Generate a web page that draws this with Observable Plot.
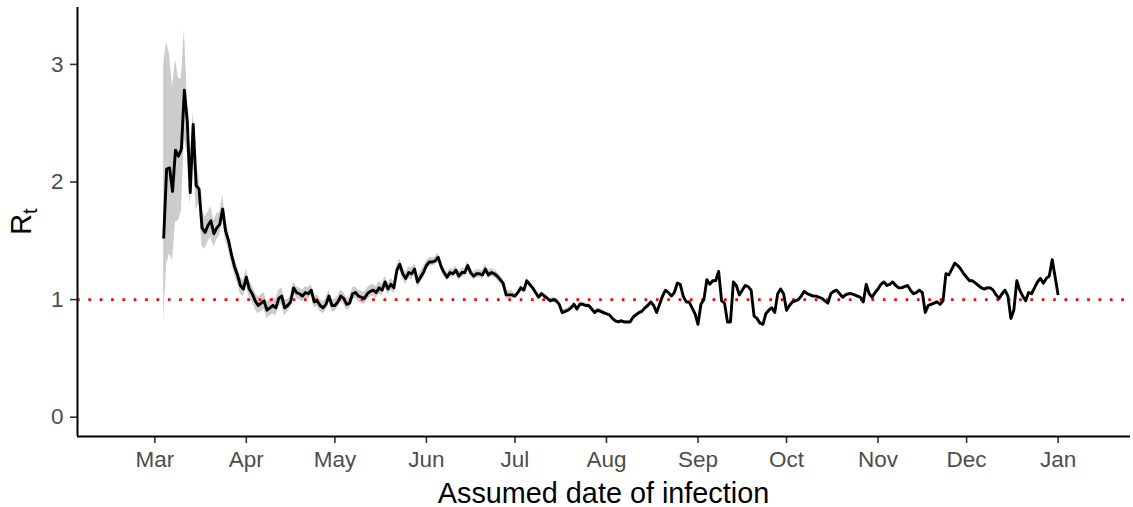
<!DOCTYPE html>
<html><head><meta charset="utf-8">
<script src="https://cdn.jsdelivr.net/npm/d3@7"></script>
<script src="https://cdn.jsdelivr.net/npm/@observablehq/plot@0.6"></script>
<style>
html,body{margin:0;padding:0;background:#fff;}
</style>
</head><body><div id="chart"></div>
<script>
// ---- data ----
const firstDay = "2020-03-04";
// daily Rt estimates from 2020-03-04 to 2021-01-01
const rt = [
  1.52, 2.11, 2.12, 1.92, 2.27, 2.22, 2.28, 2.78, 2.52, 1.91,
  2.49, 1.97, 1.94, 1.61, 1.57, 1.63, 1.67, 1.56, 1.61, 1.64,
  1.77, 1.58, 1.50, 1.38, 1.28, 1.21, 1.12, 1.09, 1.19, 1.09,
  1.05, 0.99, 0.95, 0.97, 0.99, 0.91, 0.93, 0.95, 0.93, 1.01,
  1.03, 0.93, 0.95, 0.98, 1.10, 1.06, 1.05, 1.03, 1.06, 1.05,
  1.08, 0.98, 0.99, 0.95, 0.93, 0.96, 1.03, 0.95, 0.95, 0.98,
  1.03, 1.01, 0.96, 0.97, 1.05, 1.06, 1.03, 1.02, 1.01, 1.05,
  1.07, 1.08, 1.06, 1.10, 1.08, 1.15, 1.09, 1.13, 1.10, 1.25,
  1.30, 1.22, 1.18, 1.23, 1.22, 1.26, 1.15, 1.19, 1.23, 1.29,
  1.32, 1.32, 1.33, 1.36, 1.28, 1.23, 1.19, 1.23, 1.22, 1.25,
  1.20, 1.23, 1.23, 1.29, 1.23, 1.20, 1.22, 1.22, 1.21, 1.26,
  1.21, 1.23, 1.22, 1.20, 1.17, 1.14, 1.04, 1.04, 1.04, 1.03,
  1.06, 1.10, 1.08, 1.16, 1.13, 1.10, 1.06, 1.02, 1.05, 1.03,
  1.01, 0.99, 1.00, 0.99, 0.96, 0.89, 0.90, 0.91, 0.93, 0.96,
  0.92, 0.96, 0.96, 0.95, 0.95, 0.92, 0.89, 0.91, 0.90, 0.89,
  0.88, 0.87, 0.84, 0.82, 0.81, 0.82, 0.81, 0.81, 0.81, 0.85,
  0.87, 0.89, 0.90, 0.93, 0.95, 0.98, 0.95, 0.89, 0.96, 1.03,
  1.08, 1.06, 1.03, 1.06, 1.14, 1.13, 1.03, 0.98, 0.98, 0.93,
  0.88, 0.79, 0.96, 1.00, 1.17, 1.13, 1.16, 1.16, 1.24, 0.99,
  0.97, 0.81, 0.81, 1.15, 1.12, 1.04, 1.08, 1.12, 1.11, 1.08,
  0.86, 0.84, 0.80, 0.79, 0.88, 0.91, 0.93, 0.89, 1.05, 1.09,
  1.05, 0.91, 0.95, 0.98, 0.99, 1.00, 1.03, 1.07, 1.05, 1.04,
  1.03, 1.03, 1.02, 1.01, 0.99, 0.97, 1.05, 1.07, 1.08, 1.05,
  1.02, 1.04, 1.05, 1.05, 1.04, 1.03, 1.02, 0.98, 1.13, 1.05,
  1.02, 1.06, 1.09, 1.13, 1.15, 1.12, 1.13, 1.15, 1.12, 1.10,
  1.10, 1.11, 1.12, 1.08, 1.05, 1.06, 1.08, 1.06, 0.89, 0.95,
  0.96, 0.97, 0.98, 0.96, 0.99, 1.22, 1.21, 1.26, 1.31, 1.29,
  1.26, 1.22, 1.19, 1.16, 1.16, 1.14, 1.12, 1.10, 1.09, 1.10,
  1.10, 1.08, 1.04, 1.01, 1.05, 1.08, 1.03, 0.84, 0.91, 1.16,
  1.08, 1.03, 0.99, 1.06, 1.05, 1.10, 1.15, 1.18, 1.14, 1.18,
  1.20, 1.34, 1.19, 1.04
];
// credible interval for the first days (2020-03-04 .. 2020-03-26)
const ciLowEarly  = [0.81, 1.30, 1.39, 1.33, 1.66, 1.67, 1.75, 2.37, 2.24, 1.80,
                     2.30, 1.76, 1.82, 1.45, 1.43, 1.49, 1.53, 1.45, 1.51, 1.55,
                     1.67, 1.50, 1.42];
const ciHighEarly = [3.00, 3.19, 3.08, 2.81, 3.04, 2.88, 2.88, 3.30, 2.72, 2.18,
                     2.60, 2.17, 2.04, 1.76, 1.70, 1.74, 1.79, 1.67, 1.73, 1.74,
                     1.89, 1.67, 1.58];
// later the interval is a thin band around the estimate (half-width by period)
const ciBreaks = ["2020-03-27", "2020-04-15", "2020-06-01", "2020-07-01", "2020-08-01"];
const ciHalf   = [0.07, 0.05, 0.035, 0.02, 0.012];
const refLevel = 1;
const monthTicks = ["2020-03-01","2020-04-01","2020-05-01","2020-06-01","2020-07-01",
  "2020-08-01","2020-09-01","2020-10-01","2020-11-01","2020-12-01","2021-01-01"];
const yTicks = [0, 1, 2, 3];
const xTitle = "Assumed date of infection";
const yTitleMain = "R";
const yTitleSub = "t";

// ---- build table ----
const utc = s => new Date(s + "T00:00:00Z");
const start = utc(firstDay);
const breakTimes = ciBreaks.map(s => +utc(s));
const rows = rt.map((v, i) => {
  const date = d3.utcDay.offset(start, i);
  let lo, hi;
  if (i < ciLowEarly.length) { lo = ciLowEarly[i]; hi = ciHighEarly[i]; }
  else {
    const k = Math.max(0, d3.bisectRight(breakTimes, +date) - 1);
    lo = v - ciHalf[k]; hi = v + ciHalf[k];
  }
  return {date, rt: v, lo, hi};
});

// ---- layout ----
const W = 1133, H = 507;
const mL = 77, mR = 3, mT = 7, mB = 71;
const DAY = 864e5;
const mar1 = +utc("2020-03-01");
const xDomain = [new Date(mar1 - 26.19 * DAY), new Date(mar1 + 330.52 * DAY)];
const yDomain = [-0.164, 3.484];
const font = "'Liberation Sans', Arial, Helvetica, sans-serif";

const chart = Plot.plot({
  width: W, height: H,
  marginLeft: mL, marginRight: mR, marginTop: mT, marginBottom: mB,
  style: {fontFamily: font, background: "#fff", overflow: "visible"},
  x: {type: "utc", domain: xDomain},
  y: {domain: yDomain},
  marks: [
    Plot.areaY(rows, {x: "date", y1: "lo", y2: "hi", fill: "#cccccc", curve: "linear"}),
    Plot.ruleY([refLevel], {stroke: "#ff0000", strokeWidth: 2.7, strokeDasharray: "2.7 8.65"}),
    Plot.line(rows, {x: "date", y: "rt", stroke: "#000", strokeWidth: 2.9, strokeLinejoin: "round", strokeLinecap: "butt"}),
    Plot.axisX({ticks: monthTicks.map(utc), tickFormat: d3.utcFormat("%b"), tickSize: 7, tickPadding: 7.5,
      fontSize: 22.5, fill: "#4d4d4d", stroke: "#333", strokeWidth: 1.6, label: null}),
    Plot.axisY({ticks: yTicks, tickFormat: d3.format("d"), tickSize: 7, tickPadding: 7, fontSize: 22.5, fill: "#4d4d4d",
      stroke: "#333", strokeWidth: 1.6, label: null}),
    Plot.ruleY([yDomain[0]], {stroke: "#000", strokeWidth: 2}),
    Plot.ruleX([xDomain[0]], {stroke: "#000", strokeWidth: 2})
  ]
});
document.getElementById("chart").appendChild(chart);

// ---- axis titles ----
const svg = d3.select(chart);
svg.append("text")
  .attr("x", mL + (W - mL - mR) / 2).attr("y", 503)
  .attr("text-anchor", "middle")
  .attr("font-family", font).attr("font-size", 28.8).attr("fill", "#000")
  .text(xTitle);
const yt = svg.append("text")
  .attr("transform", `translate(30.5, ${mT + (H - mT - mB) / 2}) rotate(-90)`)
  .attr("text-anchor", "middle")
  .attr("font-family", font).attr("fill", "#000");
yt.append("tspan").attr("font-size", 28.8).text(yTitleMain);
yt.append("tspan").attr("font-size", 20).attr("dy", 6).text(yTitleSub);
</script>
</body></html>
